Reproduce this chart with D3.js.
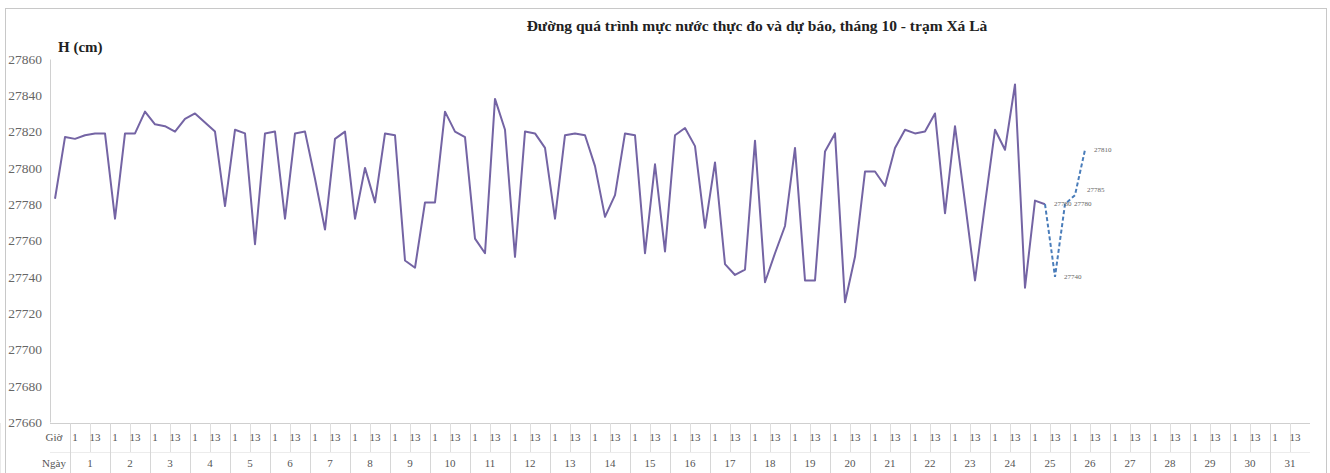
<!DOCTYPE html>
<html>
<head>
<meta charset="utf-8">
<script src="https://cdn.jsdelivr.net/npm/d3@7"></script>
<style>
  body { margin: 0; background: #fff; }
  svg { display: block; }
</style>
</head>
<body>
<svg width="1330" height="473"></svg>
<script>
const svg = d3.select('svg');
const width = 1330;
const height = 473;

// số liệu
const title = 'Đường quá trình mực nước thực đo và dự báo, tháng 10 - trạm Xá Là';
const yTicks = [27660, 27680, 27700, 27720, 27740, 27760, 27780, 27800, 27820, 27840, 27860];
const dayLabels = ['1', '2', '3', '4', '5', '6', '7', '8', '9', '10', '11', '12', '13', '14', '15', '16',
  '17', '18', '19', '20', '21', '22', '23', '24', '25', '26', '27', '28', '29', '30', '31'];
const hourLabels = ['1', '', '13', ''];
const rowLabels = ['Giờ', 'Ngày'];

// mực nước thực đo (cm), 6 giờ một lần
const observed = [
  27783, 27817, 27816, 27818, 27819, 27819, 27772, 27819, 27819, 27831,
  27824, 27823, 27820, 27827, 27830, 27825, 27820, 27779, 27821, 27819,
  27758, 27819, 27820, 27772, 27819, 27820, 27794, 27766, 27816, 27820,
  27772, 27800, 27781, 27819, 27818, 27749, 27745, 27781, 27781, 27831,
  27820, 27817, 27761, 27753, 27838, 27821, 27751, 27820, 27819, 27811,
  27772, 27818, 27819, 27818, 27801, 27773, 27785, 27819, 27818, 27753,
  27802, 27754, 27818, 27822, 27812, 27767, 27803, 27747, 27741, 27744,
  27815, 27737, 27753, 27768, 27811, 27738, 27738, 27809, 27819, 27726,
  27751, 27798, 27798, 27790, 27811, 27821, 27819, 27820, 27830, 27775,
  27823, 27781, 27738, 27780, 27821, 27810, 27846, 27734, 27782, 27780
];
// mực nước dự báo (cm)
const forecast = [27780, 27740, 27780, 27785, 27810];
const forecastStart = 99;

// ô danh mục: 2 ô nhãn + 31 ngày x 4 ô giờ
const nLabelSlots = 2;
const slots = d3.range(nLabelSlots + dayLabels.length * hourLabels.length);

const x = d3.scaleBand().domain(slots).range([50, 1310]);
const y = d3.scaleLinear().domain([27660, 27860]).range([422, 59]);

// khung
svg.append('rect')
  .attr('x', 5.5).attr('y', 8.5)
  .attr('width', 1321).attr('height', 480)
  .attr('fill', '#fff')
  .attr('stroke', '#c8c8c8');

svg.append('text')
  .attr('x', 757).attr('y', 31)
  .attr('text-anchor', 'middle')
  .attr('font-family', 'Liberation Serif')
  .attr('font-weight', 'bold')
  .attr('font-size', 15.5)
  .attr('fill', '#222')
  .text(title);

svg.append('text')
  .attr('x', 58).attr('y', 52)
  .attr('font-family', 'Liberation Serif')
  .attr('font-weight', 'bold')
  .attr('font-size', 15)
  .attr('fill', '#222')
  .text('H (cm)');

// trục tung
const yAxis = svg.append('g')
  .attr('transform', 'translate(50,0)')
  .call(d3.axisLeft(y).tickValues(yTicks).tickSize(0).tickPadding(8).tickFormat(d3.format('d')));
yAxis.select('.domain').attr('stroke', '#d0d0d0');
yAxis.selectAll('text')
  .attr('font-family', 'Liberation Serif')
  .attr('font-size', 13.5)
  .attr('fill', '#666');

// bảng danh mục phía dưới
const table = svg.append('g').attr('font-family', 'Liberation Serif').attr('font-size', 11).attr('fill', '#555');
const rowTop = 423, rowMid = 452, rowBot = 473;
const dayStart = (i) => x(nLabelSlots + i * hourLabels.length);
const dayW = x.bandwidth() * hourLabels.length;

table.append('line')
  .attr('x1', 50).attr('x2', 1310).attr('y1', rowTop + 0.5).attr('y2', rowTop + 0.5)
  .attr('stroke', '#cfcfcf');
table.append('line')
  .attr('x1', 50).attr('x2', 1310).attr('y1', rowMid + 0.5).attr('y2', rowMid + 0.5)
  .attr('stroke', '#ececec');

table.selectAll('line.day')
  .data(dayLabels.concat(['end']))
  .join('line')
  .attr('class', 'day')
  .attr('x1', (d, i) => Math.round(dayStart(i)) + 0.5)
  .attr('x2', (d, i) => Math.round(dayStart(i)) + 0.5)
  .attr('y1', rowTop).attr('y2', rowBot)
  .attr('stroke', '#d6d6d6');

table.selectAll('line.half')
  .data(dayLabels)
  .join('line')
  .attr('class', 'half')
  .attr('x1', (d, i) => Math.round(dayStart(i) + dayW / 2) + 0.5)
  .attr('x2', (d, i) => Math.round(dayStart(i) + dayW / 2) + 0.5)
  .attr('y1', rowTop).attr('y2', rowMid)
  .attr('stroke', '#dedede');

table.selectAll('text.row')
  .data(rowLabels)
  .join('text')
  .attr('class', 'row')
  .attr('x', 54)
  .attr('y', (d, i) => (i === 0 ? 441 : 467))
  .attr('text-anchor', 'middle')
  .text((d) => d);

const hourCells = [];
dayLabels.forEach((d, i) => {
  hourLabels.forEach((h, j) => {
    if (h) hourCells.push({ slot: nLabelSlots + i * hourLabels.length + j, label: h });
  });
});

table.selectAll('text.hour')
  .data(hourCells)
  .join('text')
  .attr('class', 'hour')
  .attr('x', (d) => x(d.slot) + x.bandwidth() / 2)
  .attr('y', 441)
  .attr('text-anchor', 'middle')
  .text((d) => d.label);

table.selectAll('text.dayl')
  .data(dayLabels)
  .join('text')
  .attr('class', 'dayl')
  .attr('x', (d, i) => dayStart(i) + dayW / 2)
  .attr('y', 467)
  .attr('text-anchor', 'middle')
  .text((d) => d);

// đường quá trình
const line = d3.line()
  .x((d) => x(d.i) + x.bandwidth() / 2)
  .y((d) => y(d.v));

const obsPts = observed.map((v, i) => ({ i, v }));
const fcPts = forecast.map((v, k) => ({ i: forecastStart + k, v }));

svg.append('path')
  .datum(obsPts)
  .attr('d', line)
  .attr('fill', 'none')
  .attr('stroke', '#7464a4')
  .attr('stroke-width', 2)
  .attr('stroke-linejoin', 'round');

svg.append('path')
  .datum(fcPts)
  .attr('d', line)
  .attr('fill', 'none')
  .attr('stroke', '#4a7dba')
  .attr('stroke-width', 2)
  .attr('stroke-dasharray', '4,2.5');

// nhãn số liệu dự báo; nhãn sát nhau thì đẩy lên một chút
svg.append('g')
  .selectAll('text')
  .data(fcPts)
  .join('text')
  .attr('x', (d) => x(d.i) + x.bandwidth() / 2 + 9)
  .attr('y', (d, k) => {
    const prev = fcPts[k - 1];
    const bump = prev && Math.abs(y(prev.v) - y(d.v)) < 12 && k > 1 ? -5 : 0;
    return y(d.v) + 2 + bump;
  })
  .attr('dx', (d, k) => (k === 3 ? 3 : 0))
  .attr('font-family', 'Liberation Serif')
  .attr('font-size', 7)
  .attr('fill', '#666')
  .text((d) => d.v);
</script>
</body>
</html>
